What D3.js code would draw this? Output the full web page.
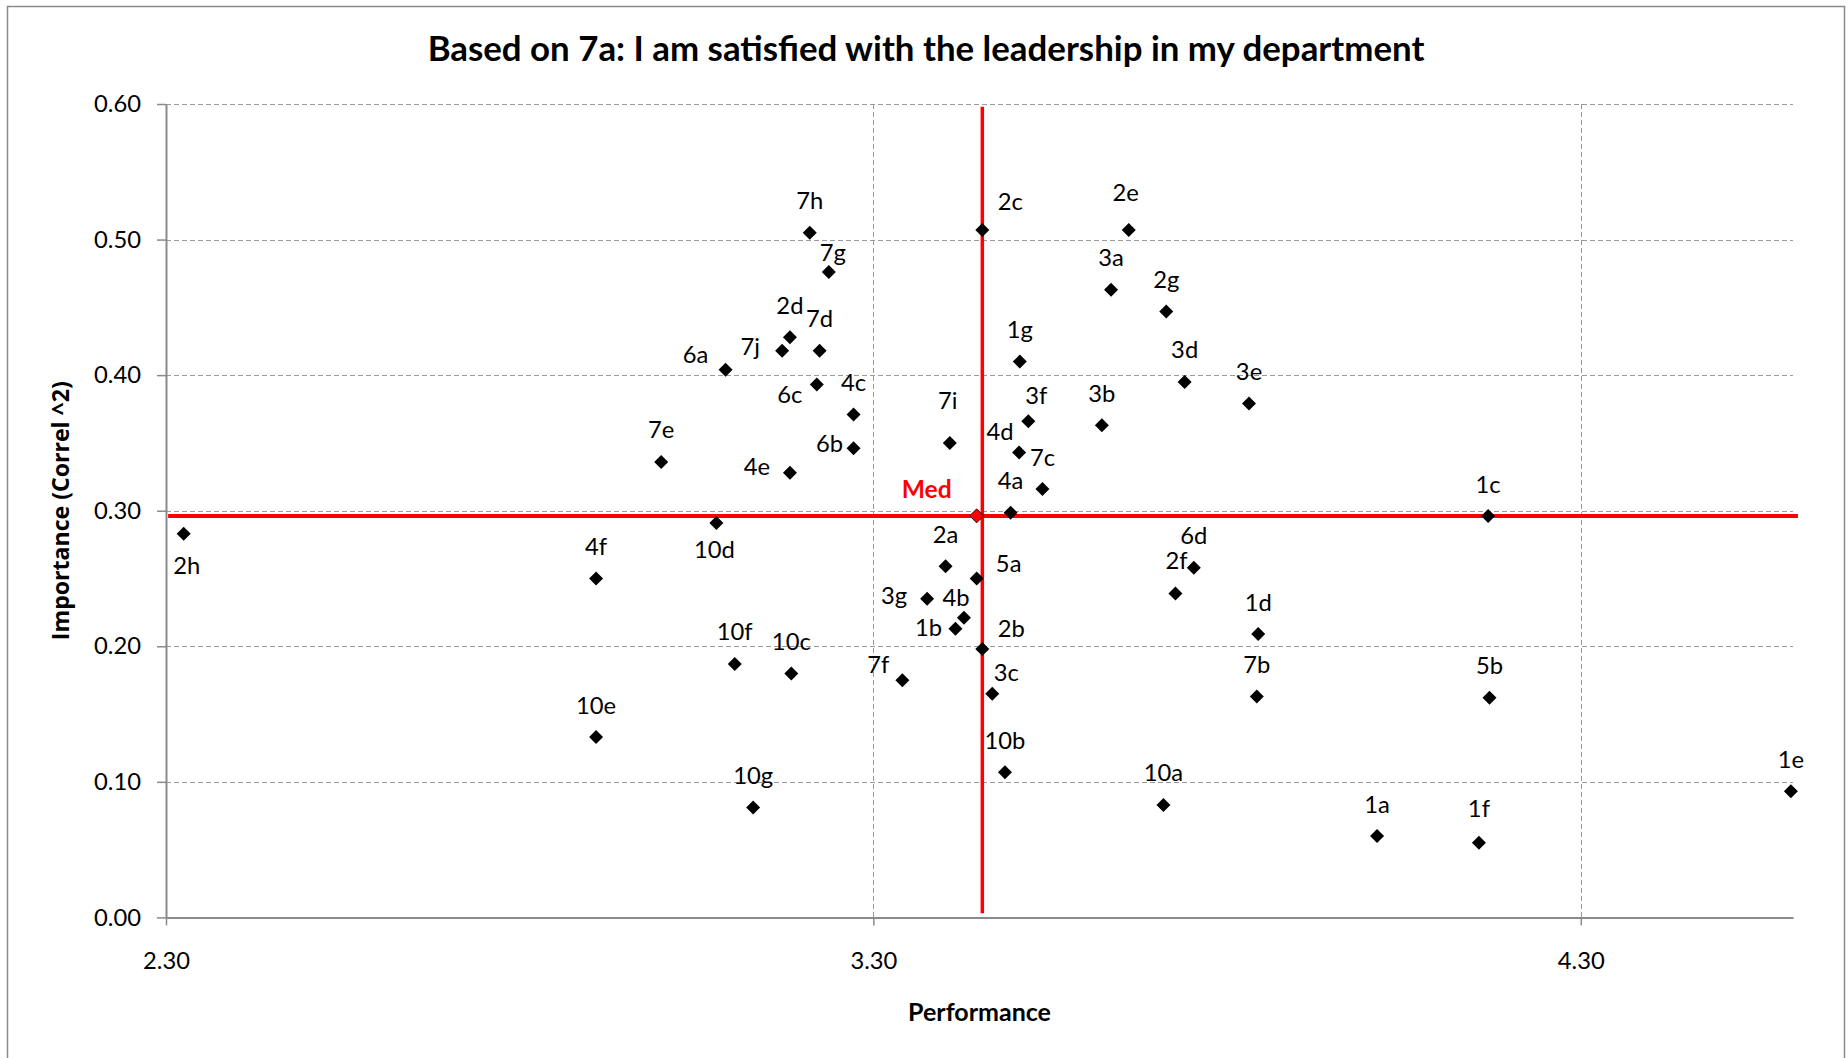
<!DOCTYPE html>
<html>
<head>
<meta charset="utf-8">
<script src="https://cdn.jsdelivr.net/npm/d3@7"></script>
<style>
  body { margin: 0; background: #fff; }
  text { fill: #000; }
</style>
</head>
<body>
<svg id="chart" width="1848" height="1058"></svg>
<script>
/*
 * Data
 */
var ITEM_NAMES = ['1a', '1b', '1c', '1d', '1e', '1f', '1g',
                  '2a', '2b', '2c', '2d', '2e', '2f', '2g', '2h',
                  '3a', '3b', '3c', '3d', '3e', '3f', '3g',
                  '4a', '4b', '4c', '4d', '4e', '4f',
                  '5a', '5b',
                  '6a', '6b', '6c', '6d',
                  '7b', '7c', '7d', '7e', '7f', '7g', '7h', '7i', '7j',
                  '10a', '10b', '10c', '10d', '10e', '10f', '10g'];

var PERFORMANCE = [4.012, 3.416, 4.169, 3.844, 4.597, 4.156, 3.507,
                   3.402, 3.454, 3.454, 3.182, 3.661, 3.727, 3.714, 2.325,
                   3.636, 3.623, 3.468, 3.740, 3.831, 3.519, 3.376,
                   3.494, 3.428, 3.272, 3.506, 3.182, 2.908,
                   3.446, 4.171,
                   3.091, 3.272, 3.220, 3.753,
                   3.842, 3.539, 3.224, 3.000, 3.341, 3.237, 3.210, 3.408, 3.171,
                   3.710, 3.486, 3.184, 3.078, 2.908, 3.104, 3.130];

var IMPORTANCE = [0.060, 0.213, 0.296, 0.209, 0.093, 0.055, 0.410,
                  0.259, 0.198, 0.507, 0.428, 0.507, 0.239, 0.447, 0.283,
                  0.463, 0.363, 0.165, 0.395, 0.379, 0.366, 0.235,
                  0.2985, 0.221, 0.371, 0.343, 0.328, 0.250,
                  0.250, 0.162,
                  0.404, 0.346, 0.393, 0.258,
                  0.163, 0.316, 0.418, 0.336, 0.175, 0.476, 0.505, 0.350, 0.418,
                  0.083, 0.107, 0.180, 0.291, 0.133, 0.187, 0.081];

var MEDIAN_PERFORMANCE = 3.454,
    MEDIAN_IMPORTANCE  = 0.296,
    MED_POINT = [3.446, 0.2962],
    MED_LABEL = 'Med';

var X_TICKS = [2.3, 3.3, 4.3],
    Y_TICKS = [0, 0.1, 0.2, 0.3, 0.4, 0.5, 0.6];

var TITLE   = 'Based on 7a: I am satisfied with the leadership in my department',
    X_TITLE = 'Performance',
    Y_TITLE = 'Importance (Correl ^2)';

/*
 * Layout / style
 */
var W = 1848, H = 1058,
    PLOT_LEFT = 166, PLOT_RIGHT = 1793,
    PLOT_TOP = 104, PLOT_BOTTOM = 917.4,
    GRID_COLOR = '#9a9a9a',
    AXIS_COLOR = '#8a8a8a',
    MED_COLOR = '#ff0000',
    FONT = 'Lato, "Open Sans", sans-serif';

// label centre relative to its point, where Excel labels were moved by hand
var DEFAULT_OFFSET = [0, -32];
var LABEL_OFFSETS = {
    '1b': [-27, -1], '1f': [0, -34], '2b': [29, -21], '2c': [28, -29],
    '2e': [-3, -38], '2f': [1, -33], '2h': [3, 32], '3c': [14, -21],
    '3f': [8, -26], '3g': [-33, -3], '4b': [-8, -20], '4d': [-19, -21],
    '4e': [-33, -6], '5a': [32, -15], '6a': [-30, -15], '6b': [-24, -5],
    '6c': [-27, 10], '7f': [-24, -16], '7g': [4, -20], '7i': [-2, -42],
    '7j': [-32, -4], '10d': [-2, 27]
};
var MED_OFFSET = [-50, -27];

function fitWidth(sel, target) {
    var w = sel.node().getComputedTextLength(),
        fs = parseFloat(sel.style('font-size'));
    sel.style('font-size', (fs * target / w) + 'px');
}

(function () {
    var svg = d3.select('#chart');

    var points = ITEM_NAMES.map(function (n, i) {
        return { name: n, x: PERFORMANCE[i], y: IMPORTANCE[i] };
    });

    var x = d3.scaleLinear().domain([2.3, 4.6]).range([PLOT_LEFT, PLOT_RIGHT]);
    var y = d3.scaleLinear().domain([0, 0.6]).range([PLOT_BOTTOM, PLOT_TOP]);

    // chart frame
    svg.append('rect')
        .attr('x', 7.5).attr('y', 6.5)
        .attr('width', 1837).attr('height', 1100)
        .attr('fill', 'none')
        .attr('stroke', AXIS_COLOR)
        .attr('stroke-width', 1.5);

    // work out a common font size for the small texts
    var probe = svg.append('text').text('0.60')
        .style('font-family', FONT).style('font-size', '26px');
    fitWidth(probe, 47);
    var SMALL_SIZE = probe.style('font-size');
    probe.remove();

    // grid
    var grid = svg.append('g');
    grid.selectAll('.hgrid')
        .data(Y_TICKS.filter(function (d) { return d > 0; }))
        .enter().append('line')
        .attr('x1', PLOT_LEFT).attr('x2', PLOT_RIGHT)
        .attr('y1', function (d) { return Math.round(y(d)) + 0.5; })
        .attr('y2', function (d) { return Math.round(y(d)) + 0.5; })
        .attr('stroke', GRID_COLOR).attr('stroke-dasharray', '5,3');
    grid.selectAll('.vgrid')
        .data(X_TICKS.filter(function (d) { return d > 2.3; }))
        .enter().append('line')
        .attr('y1', PLOT_TOP).attr('y2', PLOT_BOTTOM)
        .attr('x1', function (d) { return Math.round(x(d)) + 0.5; })
        .attr('x2', function (d) { return Math.round(x(d)) + 0.5; })
        .attr('stroke', GRID_COLOR).attr('stroke-dasharray', '5,3');

    // axes
    var xAxis = svg.append('g')
        .attr('transform', 'translate(0,' + PLOT_BOTTOM + ')')
        .call(d3.axisBottom(x).tickValues(X_TICKS).tickFormat(d3.format('.2f'))
            .tickSize(8).tickSizeOuter(0));
    xAxis.selectAll('text').attr('y', 52).attr('dy', 0);

    var yAxis = svg.append('g')
        .attr('transform', 'translate(' + PLOT_LEFT + ',0)')
        .call(d3.axisLeft(y).tickValues(Y_TICKS).tickFormat(d3.format('.2f'))
            .tickSize(9).tickSizeOuter(0).tickPadding(16));

    [xAxis, yAxis].forEach(function (a) {
        a.select('.domain').attr('stroke', AXIS_COLOR).attr('stroke-width', 2);
        a.selectAll('.tick line').attr('stroke', AXIS_COLOR).attr('stroke-width', 1.5);
        a.selectAll('text')
            .style('font-family', FONT).style('font-size', SMALL_SIZE)
            .attr('fill', '#000');
    });

    // median cross
    svg.append('line')
        .attr('x1', x(2.303)).attr('x2', x(4.607))
        .attr('y1', y(MEDIAN_IMPORTANCE)).attr('y2', y(MEDIAN_IMPORTANCE))
        .attr('stroke', MED_COLOR).attr('stroke-width', 4);
    svg.append('line')
        .attr('x1', x(MEDIAN_PERFORMANCE)).attr('x2', x(MEDIAN_PERFORMANCE))
        .attr('y1', y(0.003)).attr('y2', y(0.598))
        .attr('stroke', MED_COLOR).attr('stroke-width', 3.5);

    // points
    var diamond = d3.symbol().type(d3.symbolSquare).size(98);
    svg.append('g').selectAll('path')
        .data(points)
        .enter().append('path')
        .attr('d', diamond)
        .attr('transform', function (d) {
            return 'translate(' + x(d.x) + ',' + y(d.y) + ') rotate(45)';
        })
        .attr('fill', '#000');

    svg.append('path')
        .attr('d', diamond)
        .attr('transform', 'translate(' + x(MED_POINT[0]) + ',' + y(MED_POINT[1]) + ') rotate(45)')
        .attr('fill', MED_COLOR).attr('stroke', '#000').attr('stroke-width', 0.8);

    // point labels
    svg.append('g').selectAll('text')
        .data(points)
        .enter().append('text')
        .attr('x', function (d) { return x(d.x) + (LABEL_OFFSETS[d.name] || DEFAULT_OFFSET)[0]; })
        .attr('y', function (d) { return y(d.y) + (LABEL_OFFSETS[d.name] || DEFAULT_OFFSET)[1]; })
        .attr('dy', '0.36em')
        .attr('text-anchor', 'middle')
        .style('font-family', FONT).style('font-size', SMALL_SIZE)
        .text(function (d) { return d.name; });

    var med = svg.append('text')
        .attr('x', x(MED_POINT[0]) + MED_OFFSET[0])
        .attr('y', y(MED_POINT[1]) + MED_OFFSET[1])
        .attr('dy', '0.36em')
        .attr('text-anchor', 'middle')
        .style('font-family', FONT).style('font-size', SMALL_SIZE)
        .style('font-weight', 700).style('fill', MED_COLOR)
        .text(MED_LABEL);
    fitWidth(med, 50);

    // titles
    var title = svg.append('text')
        .attr('x', 926).attr('y', 61)
        .attr('text-anchor', 'middle')
        .style('font-family', FONT).style('font-size', '30px').style('font-weight', 700)
        .text(TITLE);
    fitWidth(title, 997);

    var xt = svg.append('text')
        .attr('x', (PLOT_LEFT + PLOT_RIGHT) / 2).attr('y', 1021)
        .attr('text-anchor', 'middle')
        .style('font-family', FONT).style('font-size', '26px').style('font-weight', 700)
        .text(X_TITLE);
    fitWidth(xt, 143);

    var yt = svg.append('text')
        .attr('transform', 'translate(69,' + (PLOT_TOP + PLOT_BOTTOM) / 2 + ') rotate(-90)')
        .attr('text-anchor', 'middle')
        .style('font-family', '"Open Sans", sans-serif').style('font-size', '22px')
        .style('font-weight', 700)
        .text(Y_TITLE);
    fitWidth(yt, 259);
})();
</script>
</body>
</html>
